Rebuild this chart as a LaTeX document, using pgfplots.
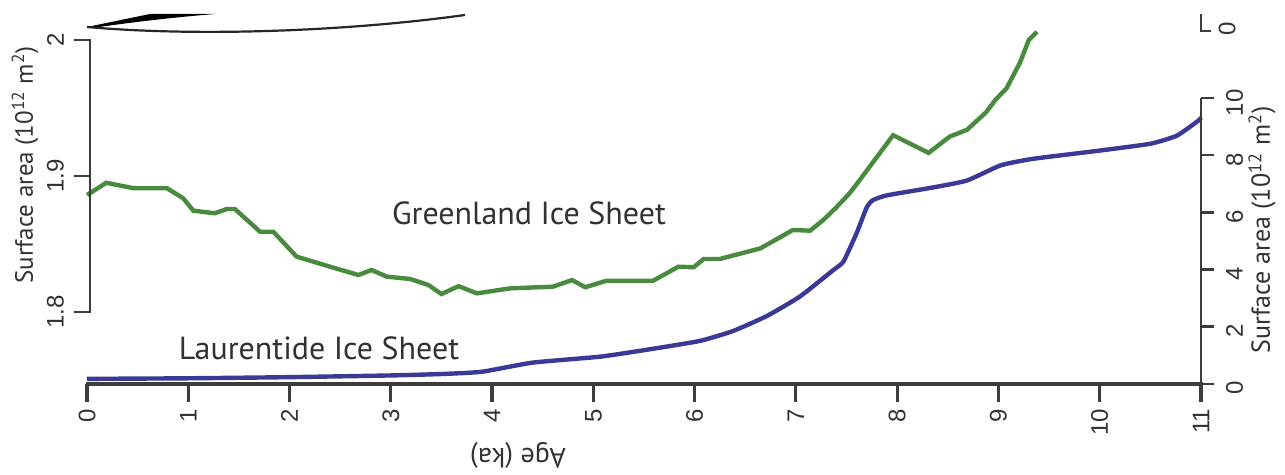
\documentclass[border=0pt]{standalone}
\usepackage{fontspec}
\setmainfont{PT Sans}
\newfontfamily\tickfont{Liberation Sans}
\usepackage{pgfplots}
\pgfplotsset{compat=1.18}
\definecolor{gis}{RGB}{72,138,62}
\definecolor{lis}{RGB}{58,58,150}
\definecolor{txt}{RGB}{50,50,50}
\definecolor{axc}{RGB}{60,60,60}
\begin{document}
\begin{tikzpicture}
\path[use as bounding box] (-43.5pt,4.5pt) rectangle (599pt,242pt);
% Laurentide axis (bottom + right)
\begin{axis}[
  at={(0pt,50pt)}, anchor=south west,
  scale only axis, width=557pt, height=172pt,
  xmin=0, xmax=11, ymin=0, ymax=12.07,
  axis x line*=bottom, axis y line*=right,
  axis line style={draw=none},
  clip=false,
  /pgf/number format/assume math mode=true,
  xtick={0,1,...,11}, ytick={0,2,...,10},
  tick align=outside, major tick length=9pt,
  xtick style={draw=none}, ytick style={draw=none},
  xticklabel style={font=\tickfont\fontsize{12}{12}\selectfont, text=txt, rotate=90, anchor=east},
  yticklabel style={font=\tickfont\fontsize{12}{12}\selectfont, text=txt, rotate=90, anchor=north, xshift=-2pt},
]
\addplot[lis, line width=2.2pt, smooth, tension=0.3] coordinates {
(0,0.18) (1,0.2) (2,0.24) (3,0.3) (3.5,0.35) (3.9,0.43) (4.4,0.75) (5.07,0.96)
(5.56,1.22) (6.05,1.51) (6.38,1.86) (6.71,2.38) (7.04,3.07) (7.37,4.0) (7.47,4.3)
(7.60,5.3) (7.70,6.2) (7.76,6.45) (7.90,6.62) (8.36,6.9) (8.69,7.14) (9.02,7.67)
(9.34,7.9) (10.0,8.19) (10.5,8.43) (10.76,8.71) (10.97,9.23) (11.0,9.35)
};
\end{axis}
% Greenland axis (left)
\begin{axis}[
  at={(0pt,50pt)}, anchor=south west,
  scale only axis, width=557pt, height=172pt,
  xmin=0, xmax=11, ymin=1.74706, ymax=2.0,
  axis x line=none, axis y line*=left,
  axis line style={draw=none},
  clip=false,
  /pgf/number format/assume math mode=true,
  ytick={1.8,1.9,2}, yticklabels={1.8,1.9,2},
  tick align=outside, major tick length=8pt,
  ytick style={draw=none},
  yticklabel style={font=\tickfont\fontsize{12}{12}\selectfont, text=txt, rotate=90, anchor=south},
]
\addplot[gis, line width=2.2pt] coordinates {
(0.0,1.886) (0.19,1.895) (0.46,1.891) (0.79,1.891) (0.95,1.8836) (1.05,1.8745)
(1.26,1.8726) (1.38,1.8757) (1.46,1.8757) (1.71,1.859) (1.84,1.859) (2.07,1.8407)
(2.40,1.8333) (2.68,1.8272) (2.81,1.8309) (2.96,1.826) (3.19,1.8243) (3.37,1.8199)
(3.50,1.8132) (3.67,1.819) (3.85,1.8137) (4.18,1.8174) (4.60,1.8186) (4.79,1.8235)
(4.92,1.8182) (5.13,1.823) (5.59,1.823) (5.84,1.8333) (5.99,1.8329) (6.09,1.839)
(6.25,1.839) (6.65,1.8468) (6.97,1.8603) (7.14,1.8598) (7.27,1.8676) (7.40,1.877)
(7.53,1.8873) (7.63,1.897) (7.96,1.930) (8.31,1.917) (8.52,1.929) (8.69,1.934)
(8.88,1.947) (8.97,1.956) (9.08,1.9645) (9.21,1.983) (9.30,2.000) (9.38,2.006)
};
\end{axis}
% axis spines, ticks, texts and cropped fragments, in pixel coordinates
\begin{scope}[shift={(-43.5pt,242pt)}, x=0.5pt, y=-0.5pt]
\fill[axc] (86,382.4) rectangle (1202.5,385.6);
\foreach \i in {0,...,11} \fill[axc] ({87+\i*101.27-1.6},384) rectangle ({87+\i*101.27+1.6},402);
\begin{scope}[draw=axc, line width=1.3pt, line cap=butt]
\draw (1201,385) -- (1201,98);
\foreach \j in {0,1,...,5} \draw (1201,{384-\j*57.2}) -- (1214,{384-\j*57.2});
\draw (74,40) -- (90,40) -- (90,312) -- (74,312);
\draw (74,176) -- (90,176);
\end{scope}
\node[rotate=90, text=txt, font=\fontsize{12.5}{13}\selectfont] at (25,165) {Surface area (10\textsuperscript{12} m\textsuperscript{2})};
\node[rotate=90, text=txt, font=\fontsize{13}{14}\selectfont] at (1262,230) {Surface area (10\textsuperscript{12} m\textsuperscript{2})};
\node[rotate=180, text=txt, font=\fontsize{14}{15}\selectfont] at (518,455) {Age (ka)};
\node[text=txt, font=\fontsize{16}{17}\selectfont] at (529,213) {Greenland Ice Sheet};
\node[text=txt, font=\fontsize{16}{17}\selectfont] at (319,348) {Laurentide Ice Sheet};
\fill[black] (87,27) -- (150,14) -- (215,14) .. controls (165,18) and (120,24) .. (92,28) -- cycle;
\draw[black!85, line width=1.1pt] (87,27) .. controls (200,37) and (350,31) .. (465,15);
\draw[axc, line width=1.2pt] (1201,14) -- (1201,31) -- (1211,31);
\node[rotate=90, text=txt, font=\tickfont\fontsize{12}{12}\selectfont] at (1227,29) {0};
\end{scope}
\end{tikzpicture}
\end{document}
